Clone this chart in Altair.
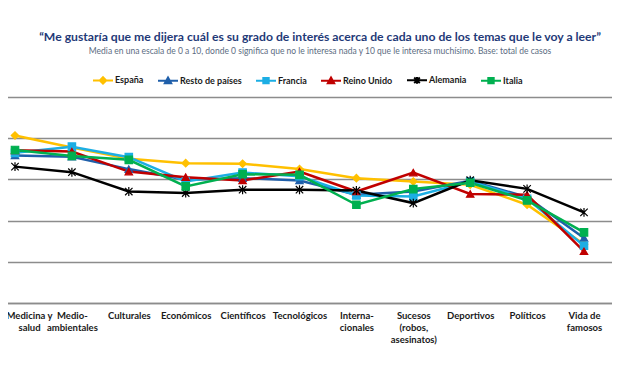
import altair as alt
import pandas as pd

categorias = ["Medicina y\nsalud", "Medio-\nambientales", "Culturales", "Económicos", "Científicos",
              "Tecnológicos", "Interna-\ncionales", "Sucesos\n(robos,\nasesinatos)", "Deportivos",
              "Políticos", "Vida de\nfamosos"]
paises = ["España", "Resto de países", "Francia", "Reino Unido", "Alemania", "Italia"]
colores = ["#FFC000", "#1F5FAA", "#1CAEE4", "#C00000", "#000000", "#00B050"]

espana   = [8.13, 7.55, 7.00, 6.79, 6.76, 6.50, 6.06, 5.90, 5.74, 4.77, 2.85]
resto    = [7.16, 7.10, 6.50, 5.98, 6.06, 5.95, 5.25, 5.41, 5.93, 5.14, 3.16]
francia  = [7.29, 7.59, 7.08, 5.90, 6.33, 6.15, 5.22, 5.17, 5.90, 5.06, 2.78]
reino    = [7.41, 7.35, 6.38, 6.11, 5.95, 6.38, 5.41, 6.33, 5.29, 5.25, 2.51]
alemania = [6.62, 6.35, 5.41, 5.34, 5.50, 5.50, 5.46, 4.85, 5.96, 5.54, 4.40]
italia   = [7.43, 7.14, 6.95, 5.66, 6.25, 6.22, 4.77, 5.53, 5.84, 4.98, 3.43]

series = [espana, resto, francia, reino, alemania, italia]
rows = []
for p, vals in zip(paises, series):
    for i, (c, v) in enumerate(zip(categorias, vals)):
        rows.append({"cat": c, "pos": i, "pais": p, "val": v})
df = pd.DataFrame(rows)

formas = ["diamond", "triangle-up", "square", "triangle-up",
          "M-1,-1L1,1M-1,1L1,-1M0,-1.2L0,1.2", "square"]
leg_formas = [
    "M-1,0L1,0M0,-0.32L0.32,0L0,0.32L-0.32,0Z",
    "M-1,0L1,0M0,-0.32L0.32,0.26L-0.32,0.26Z",
    "M-1,0L1,0M-0.27,-0.27L0.27,-0.27L0.27,0.27L-0.27,0.27Z",
    "M-1,0L1,0M0,-0.32L0.32,0.26L-0.32,0.26Z",
    "M-1,0L1,0M-0.28,-0.28L0.28,0.28M-0.28,0.28L0.28,-0.28M0,-0.34L0,0.34",
    "M-1,0L1,0M-0.27,-0.27L0.27,-0.27L0.27,0.27L-0.27,0.27Z",
]
shape_expr = " : ".join(
    [f"datum.value === '{p}' ? '{s}'" for p, s in zip(paises, leg_formas)]) + " : 'circle'"

FONT = "Lato"

color_scale = alt.Scale(domain=paises, range=colores)
x_enc = alt.X("cat:N", sort=categorias,
              scale=alt.Scale(domain=categorias, range=[-21.45, 604.45], paddingInner=0, paddingOuter=0),
              axis=alt.Axis(title=None, labelAngle=0, ticks=False, domain=True, domainColor="#8c8c8c",
                            domainWidth=1.5, grid=False, labelExpr="split(datum.value, '\\n')",
                            labelFont=FONT, labelFontSize=9.5, labelFontWeight="bold",
                            labelColor="#1a1a1a", labelLineHeight=12.3, labelPadding=7,
                            labelOffset={"condition": {"test": "indexof(datum.value, 'Medicina') === 0",
                                                       "value": 14}, "value": 0},
                            labelBaseline="top", labelOverlap=False, labelFlush=False, labelLimit=0))
y_enc = alt.Y("val:Q", scale=alt.Scale(domain=[0, 10], nice=False, zero=True),
              axis=alt.Axis(values=[0, 2, 4, 6, 8, 10], labels=False, ticks=False, domain=False,
                            grid=True, gridColor="#8c8c8c", gridWidth=1.4, title=None))

leg = alt.Legend(title=None, orient="none", legendX=84, legendY=-28, direction="horizontal",
                 symbolSize=400, labelFont=FONT, labelFontSize=9, labelFontWeight="bold",
                 labelColor="#1a1a1a", columnPadding=10, labelOffset=1, symbolOpacity=1, padding=0,
                 symbolType=alt.ExprRef(expr=shape_expr), symbolStrokeWidth=2)
color_enc = alt.Color("pais:N", scale=color_scale, legend=leg)

base = alt.Chart(df).encode(x=x_enc, y=y_enc)

lines = base.mark_line(strokeWidth=2.5).encode(color=color_enc, order=alt.Order("pos:Q"))

point_layers = []
for p, s, c in zip(paises, formas, colores):
    point_layers.append(
        base.transform_filter(alt.datum.pais == p)
        .mark_point(filled=True, size=55, opacity=1, strokeWidth=1.2, shape=s, stroke=c)
        .encode(color=color_enc)
    )

chart = alt.layer(lines, *point_layers).properties(
    width=604, height=206,
    autosize=alt.AutoSizeParams(type="none"),
    padding={"left": 0, "top": 89, "right": 0, "bottom": 55},
    title=alt.Title(
        text="“Me gustaría que me dijera cuál es su grado de interés acerca de cada uno de los temas que le voy a leer”",
        subtitle="Media en una escala de 0 a 10, donde 0 significa que no le interesa nada y 10 que le interesa muchísimo.  Base: total de casos",
        anchor="middle", dx=10, font=FONT, fontSize=12.2, fontWeight="bold", color="#1F3A78",
        subtitleFont=FONT, subtitleFontSize=8.5, subtitleColor="#5B6B7F", subtitlePadding=3,
        offset=14, frame="group"),
).configure_view(stroke=None)

chart.save("out.html", embed_options={"renderer": "svg", "actions": False})
